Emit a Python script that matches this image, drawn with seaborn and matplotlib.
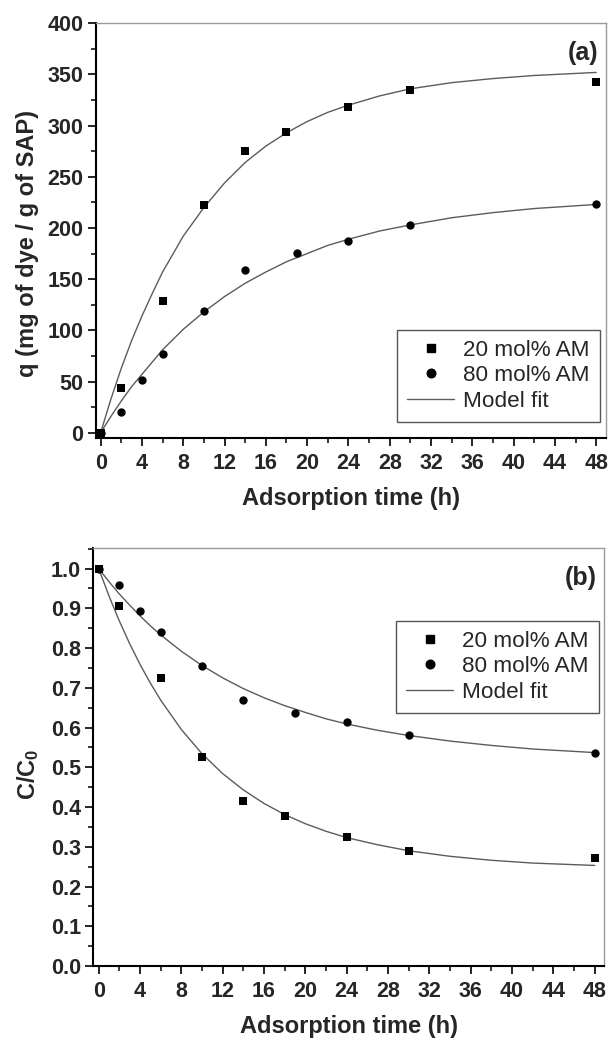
import matplotlib
matplotlib.use("Agg")
import matplotlib.pyplot as plt
import numpy as np
import pandas as pd
import seaborn as sns
from matplotlib.lines import Line2D
from matplotlib.ticker import MultipleLocator, FormatStrFormatter

# ---------------- data ----------------
t_20 = [0, 2, 6, 10, 14, 18, 24, 30, 48]
t_80 = [0, 2, 4, 6, 10, 14, 19, 24, 30, 48]

q_20 = [0, 44, 129, 222, 275, 294, 318, 335, 343]
q_80 = [0, 20, 51, 77, 118.6, 159, 176, 187, 203, 223]

c_20 = [1.0, 0.906, 0.725, 0.527, 0.415, 0.377, 0.325, 0.289, 0.272]
c_80 = [1.0, 0.958, 0.894, 0.841, 0.754, 0.670, 0.636, 0.613, 0.580, 0.537]

# model-fit curves
t_fit = [0, 1, 2, 3, 4, 5, 6, 8, 10, 12, 14, 16, 18, 20, 22, 24, 27, 30, 34, 38, 42, 48]
q_fit_20 = [0, 33, 63, 90, 114, 136, 157, 192, 220, 244, 264, 280, 293, 304, 313, 320,
            329, 336, 342, 346, 349, 352]
q_fit_80 = [0, 16, 31, 45, 57, 69, 81, 101, 118, 133, 146, 157, 167, 175, 183, 189,
            197, 203, 210, 215, 219, 223]
c_fit_20 = [1.0, 0.931, 0.868, 0.811, 0.759, 0.712, 0.669, 0.595, 0.534, 0.484, 0.443,
            0.409, 0.381, 0.358, 0.339, 0.323, 0.305, 0.290, 0.276, 0.266, 0.259, 0.253]
c_fit_80 = [1.0, 0.967, 0.936, 0.908, 0.881, 0.856, 0.833, 0.792, 0.756, 0.725, 0.698,
            0.675, 0.655, 0.638, 0.622, 0.609, 0.593, 0.580, 0.566, 0.555, 0.546, 0.537]

labels = ["20 mol% AM", "80 mol% AM", "Model fit"]
x_label = "Adsorption time (h)"
y_label_a = "q (mg of dye / g of SAP)"
y_label_b = "C/C$_0$"

# ---------------- style ----------------
sns.set_theme(style="ticks")
plt.rcParams["font.family"] = ["Liberation Sans", "DejaVu Sans"]
plt.rcParams["mathtext.fontset"] = "custom"
plt.rcParams["mathtext.rm"] = "Liberation Sans:bold"
plt.rcParams["mathtext.it"] = "Liberation Sans:bold"
plt.rcParams["mathtext.bf"] = "Liberation Sans:bold"

FIT_COLOR = "#5c5c5c"
TICK_FS = 15.5
LABEL_FS = 17
LEG_FS = 16.2
PANEL_FS = 18

fig = plt.figure(figsize=(6.1, 10.4), dpi=100)
W, H = 610.0, 1040.0
ax1 = fig.add_axes([96 / W, 1 - 438 / H, 510 / W, 414.7 / H])
ax2 = fig.add_axes([93.3 / W, 1 - 966 / H, 510.7 / W, 417.7 / H])


def draw(ax, t20, y20, t80, y80, f20, f80):
    sns.lineplot(x=t_fit, y=f20, ax=ax, color=FIT_COLOR, lw=1.0, estimator=None, sort=False, zorder=2)
    sns.lineplot(x=t_fit, y=f80, ax=ax, color=FIT_COLOR, lw=1.0, estimator=None, sort=False, zorder=2)
    sns.scatterplot(x=t20, y=y20, ax=ax, marker="s", s=30, color="black",
                    edgecolor="black", linewidth=0, zorder=3)
    sns.scatterplot(x=t80, y=y80, ax=ax, marker="o", s=36, color="black",
                    edgecolor="black", linewidth=0, zorder=3)


draw(ax1, t_20, q_20, t_80, q_80, q_fit_20, q_fit_80)
draw(ax2, t_20, c_20, t_80, c_80, c_fit_20, c_fit_80)

ax1.set_xlim(-0.45, 48.95)
ax1.set_ylim(-5.2, 400)
ax2.set_xlim(-0.52, 48.9)
ax2.set_ylim(0, 1.051)

ax1.yaxis.set_major_locator(MultipleLocator(50))
ax1.yaxis.set_minor_locator(MultipleLocator(25))
ax2.yaxis.set_major_locator(MultipleLocator(0.1))
ax2.yaxis.set_minor_locator(MultipleLocator(0.05))
ax2.yaxis.set_major_formatter(FormatStrFormatter("%.1f"))

handles = [
    Line2D([], [], marker="s", ls="none", color="black", markersize=5.4),
    Line2D([], [], marker="o", ls="none", color="black", markersize=6.2),
    Line2D([], [], color=FIT_COLOR, lw=1.0),
]

for ax, panel, ylab, leg_anchor, ptxt, ylab_pos in [
    (ax1, "(a)", y_label_a, (0.988, 0.0386), (0.985, 0.957), (-0.112, 0.469)),
    (ax2, "(b)", y_label_b, (0.99, 0.606), (0.986, 0.958), (-0.102, 0.46)),
]:
    ax.xaxis.set_major_locator(MultipleLocator(4))
    ax.xaxis.set_minor_locator(MultipleLocator(2))
    ax.tick_params(which="major", direction="out", length=6, width=1.2, color="black",
                   labelsize=TICK_FS, pad=3.0)
    ax.tick_params(which="minor", direction="out", length=3.5, width=1.1, color="black")
    ax.tick_params(axis="x", which="major", pad=4.5)
    for lab in ax.get_xticklabels() + ax.get_yticklabels():
        lab.set_fontweight("bold")
    for s in ["left", "bottom"]:
        ax.spines[s].set_color("black")
        ax.spines[s].set_linewidth(1.5)
    for s in ["top", "right"]:
        ax.spines[s].set_visible(True)
        ax.spines[s].set_color("#9a9a9a")
        ax.spines[s].set_linewidth(1.0)
    ax.set_xlabel(x_label, fontsize=LABEL_FS, fontweight="bold")
    ax.set_ylabel(ylab, fontsize=LABEL_FS, fontweight="bold")
    ax.xaxis.set_label_coords(0.5, -0.118)
    ax.yaxis.set_label_coords(*ylab_pos)
    ax.text(ptxt[0], ptxt[1], panel, transform=ax.transAxes, ha="right", va="top",
            fontsize=PANEL_FS, fontweight="bold")
    leg = ax.legend(handles, labels, loc="lower right", bbox_to_anchor=leg_anchor,
                    frameon=True, fancybox=False, framealpha=1, edgecolor="#555555",
                    fontsize=LEG_FS, handlelength=2.1, handletextpad=0.4,
                    labelspacing=0.2, borderpad=0.45, borderaxespad=0)
    leg.get_frame().set_linewidth(1.0)

fig.savefig("out.png", dpi=100)
